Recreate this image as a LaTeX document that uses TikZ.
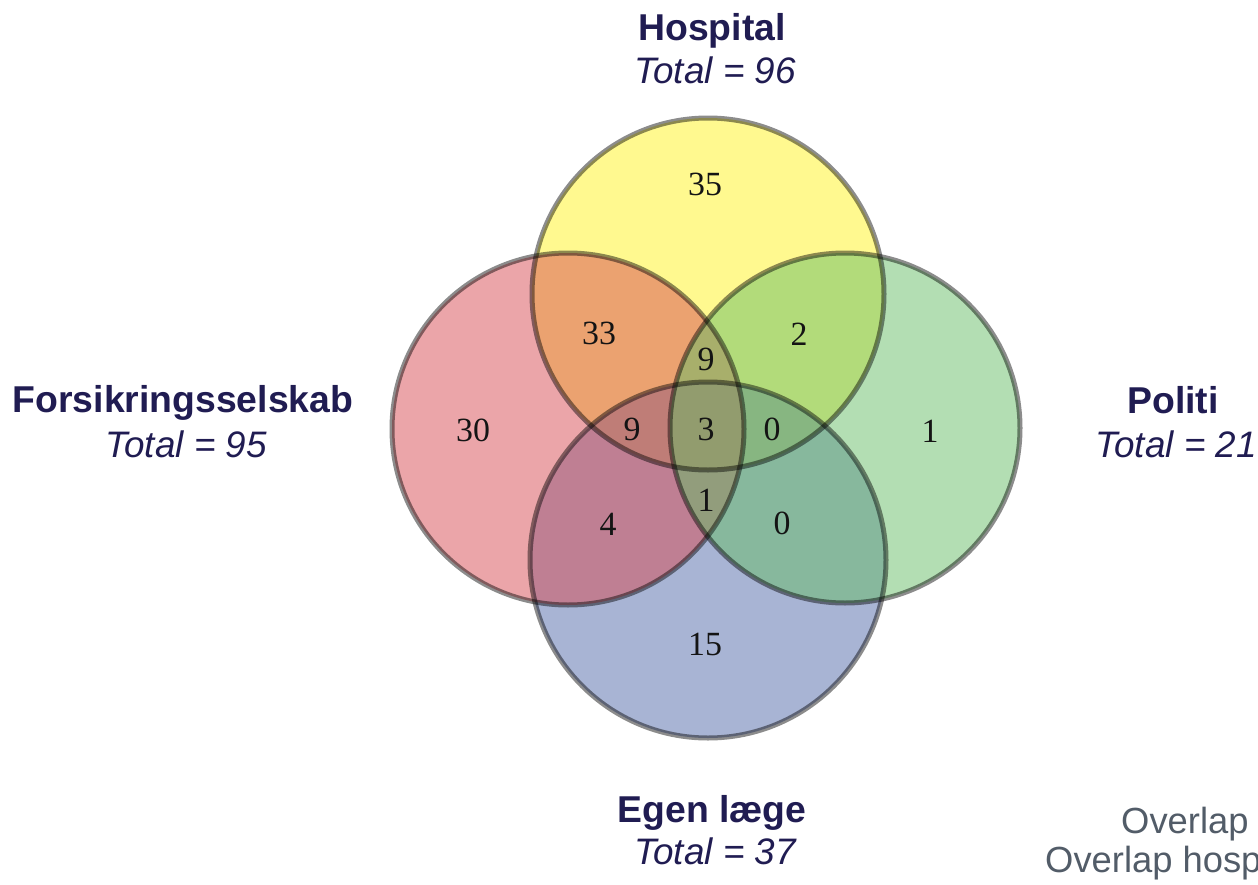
\documentclass[tikz,border=0pt]{standalone}
\usepackage{fontspec}
\setmainfont{Liberation Serif}
\newfontfamily\arialf{Liberation Sans}
\definecolor{cyel}{RGB}{255,243,31}
\definecolor{cred}{RGB}{215,75,83}
\definecolor{cgrn}{RGB}{103,189,103}
\definecolor{cblu}{RGB}{81,105,169}
\definecolor{navy}{RGB}{32,28,82}
\definecolor{slate}{RGB}{82,92,104}
\definecolor{numc}{RGB}{20,20,20}
\tikzset{
  setfill/.style={fill=#1, fill opacity=0.5},
  setrim/.style={draw=black, draw opacity=0.45, line width=5bp},
  title/.style={anchor=base, inner sep=0pt, text=navy, font=\arialf\bfseries\fontsize{37.5}{42}\selectfont},
  total/.style={anchor=base, inner sep=0pt, text=navy, font=\arialf\itshape\fontsize{37}{42}\selectfont},
  count/.style={inner sep=0pt, text=numc, font=\fontsize{34}{38}\selectfont},
  note/.style={anchor=base west, inner sep=0pt, text=slate, font=\arialf\fontsize{36.5}{42}\selectfont}
}
\begin{document}
\begin{tikzpicture}[x=1bp,y=-1bp]
\useasboundingbox (0,0) rectangle (1258,885);
\clip (0,0) rectangle (1258,885);
% circle centres
\coordinate (cH) at (708,294);
\coordinate (cF) at (568,429);
\coordinate (cP) at (845,428);
\coordinate (cE) at (708,560);
% fills
\fill[setfill=cyel] (cH) circle[radius=176];
\fill[setfill=cblu] (cE) circle[radius=178];
\fill[setfill=cred] (cF) circle[radius=176];
\fill[setfill=cgrn] (cP) circle[radius=175];
% rims
\draw[setrim] (cH) circle[radius=176];
\draw[setrim] (cF) circle[radius=176];
\draw[setrim] (cP) circle[radius=175];
\draw[setrim] (cE) circle[radius=178];
% counts
\node[count] (n35) at (705,184) {35};
\node[count] (n33) at (599,333) {33};
\node[count] (n2) at (799,334) {2};
\node[count] (n9a) at (706,359) {9};
\node[count] (n30) at (473,430) {30};
\node[count] (n9b) at (632,429) {9};
\node[count] (n3) at (706,429) {3};
\node[count] (n0a) at (772,429) {0};
\node[count] (n1a) at (930,431) {1};
\node[count] (n4) at (608,524) {4};
\node[count] (n1b) at (706,500) {1};
\node[count] (n0b) at (782,523) {0};
\node[count] (n15) at (705,644) {15};
% labels
\node[title] (tH) at (712,40) {Hospital};
\node[total] (sH) at (715,83) {Total = 96};
\node[title] (tF) at (183,412) {Forsikringsselskab};
\node[total] (sF) at (186,457) {Total = 95};
\node[title] (tP) at (1173,413) {Politi};
\node[total] (sP) at (1176,457) {Total = 21};
\node[title] (tE) at (712,822) {Egen læge};
\node[total] (sE) at (715,864) {Total = 37};
% notes
\node[note] (o1) at (1121,833) {Overlap};
\node[note] (o2) at (1045,872) {Overlap hosp};
\end{tikzpicture}
\end{document}
